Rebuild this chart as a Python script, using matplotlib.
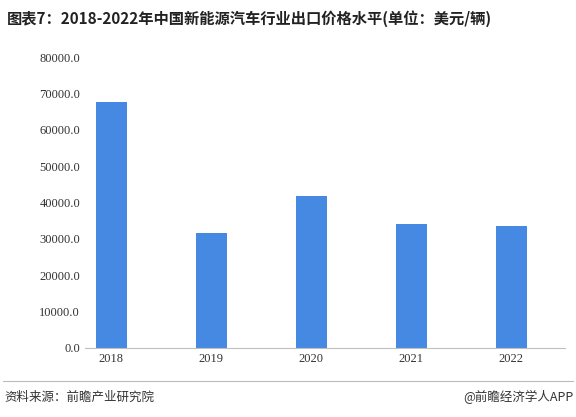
import matplotlib.pyplot as plt

plt.rcParams['font.family'] = ['Noto Sans CJK SC', 'DejaVu Sans']

years = ["2018", "2019", "2020", "2021", "2022"]
prices = [67600, 31600, 41800, 34100, 33500]
yticks = list(range(0, 80001, 10000))

fig = plt.figure(figsize=(5.76, 4.17), dpi=100)
ax = fig.add_axes([85/576, 1-348/417, (565-85)/576, (348-57)/417])
ax.bar(range(len(years)), prices, width=0.31, color="#4589e3", zorder=2)
ax.set_xlim(-0.26, 4.54)
ax.set_ylim(0, 80000)
ax.set_yticks(yticks)
ax.set_yticklabels([f"{v:.1f}" for v in yticks], family="Liberation Serif", fontsize=9)
ax.set_xticks(range(len(years)))
ax.set_xticklabels(years, family="Liberation Serif", fontsize=9)
ax.tick_params(length=0, colors="#333333")
for s in ["top", "right", "left"]:
    ax.spines[s].set_visible(False)
ax.spines["bottom"].set_color("#bfbfbf")

fig.text(0.012, 0.955, "图表7：2018-2022年中国新能源汽车行业出口价格水平(单位：美元/辆)",
         fontsize=11, fontweight="bold", color="#222222", va="center")
fig.add_artist(plt.Line2D([0.005, 0.995], [1-381/417]*2, color="#bbbbbb", lw=0.8))
fig.text(0.008, 1-397/417, "资料来源：前瞻产业研究院", fontsize=9, color="#333333", va="center")
fig.text(0.995, 1-397/417, "@前瞻经济学人APP", fontsize=9, color="#333333", va="center", ha="right")

fig.savefig("out.png", facecolor="white")
